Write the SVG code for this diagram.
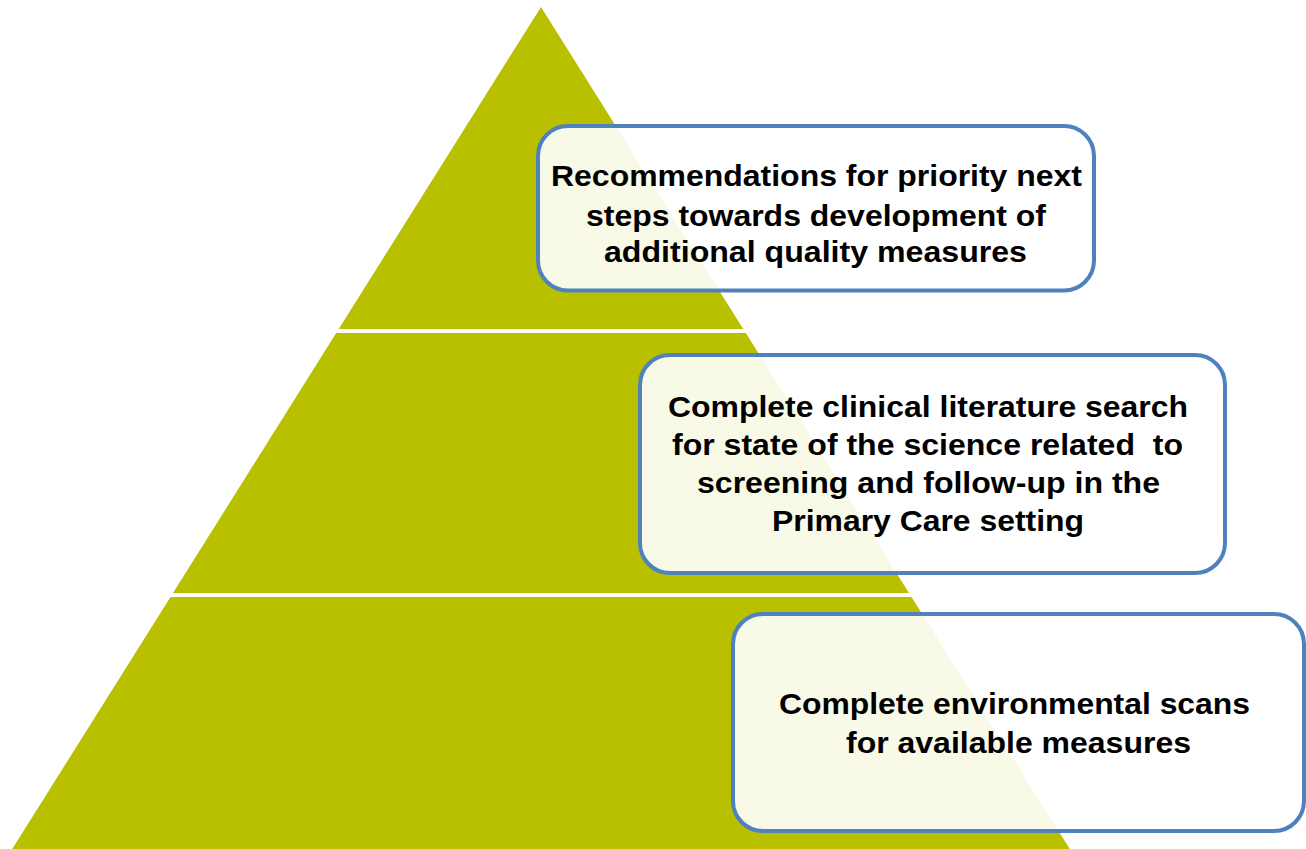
<svg xmlns="http://www.w3.org/2000/svg" width="1306" height="849" viewBox="0 0 1306 849">
<style>
.tier{fill:#b9c000;}
.box{fill:#ffffff;fill-opacity:0.9;stroke:#4f81bd;stroke-width:4;}
.lbl{font-family:"Liberation Sans",Arial,sans-serif;font-weight:bold;font-size:30px;fill:#000000;text-anchor:middle;}
</style>
<rect width="1306" height="849" fill="#ffffff"/>
<g id="pyramid">
<polygon id="tier-top" class="tier" points="541,7 743.3,329 338.7,329"/>
<polygon id="tier-middle" class="tier" points="336.2,333 745.8,333 909,593 173,593"/>
<polygon id="tier-bottom" class="tier" points="170.5,597 911.5,597 1069.8,849 12.2,849"/>
</g>
<g id="connectors"></g>
<g id="node-recommendations">
<rect class="box" x="538" y="126" width="556" height="164.5" rx="30" ry="30"/>
<text class="lbl" x="816.5" y="186" textLength="531" lengthAdjust="spacingAndGlyphs">Recommendations for priority next</text>
<text class="lbl" x="816" y="225.5" textLength="460" lengthAdjust="spacingAndGlyphs">steps towards development of</text>
<text class="lbl" x="815.5" y="262" textLength="423" lengthAdjust="spacingAndGlyphs">additional quality measures</text>
</g>
<g id="node-literature">
<rect class="box" x="640" y="355" width="585" height="218" rx="30" ry="30"/>
<text class="lbl" x="928" y="417" textLength="520" lengthAdjust="spacingAndGlyphs">Complete clinical literature search</text>
<text class="lbl" x="927.5" y="455" textLength="511" lengthAdjust="spacingAndGlyphs" xml:space="preserve">for state of the science related  to</text>
<text class="lbl" x="928.5" y="493" textLength="463" lengthAdjust="spacingAndGlyphs">screening and follow-up in the</text>
<text class="lbl" x="928" y="531" textLength="312" lengthAdjust="spacingAndGlyphs">Primary Care setting</text>
</g>
<g id="node-scans">
<rect class="box" x="733" y="614" width="571" height="217" rx="30" ry="30"/>
<text class="lbl" x="1014.5" y="713.5" textLength="471" lengthAdjust="spacingAndGlyphs">Complete environmental scans</text>
<text class="lbl" x="1018.5" y="752.5" textLength="345" lengthAdjust="spacingAndGlyphs">for available measures</text>
</g>
</svg>
